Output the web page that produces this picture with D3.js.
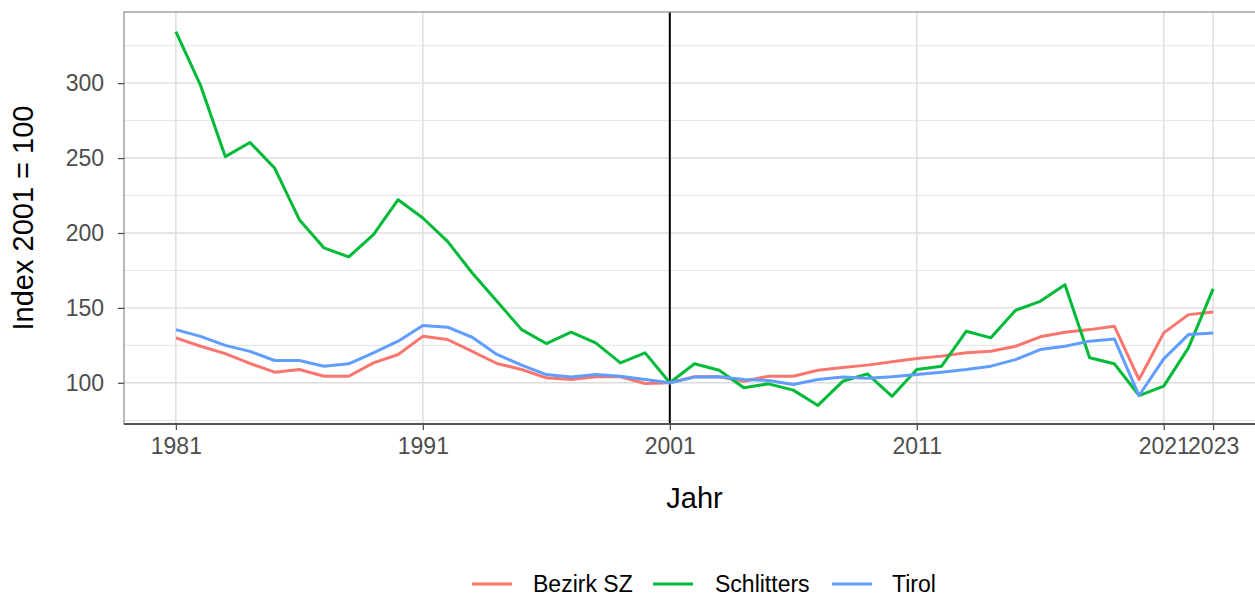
<!DOCTYPE html>
<html>
<head>
<meta charset="utf-8">
<script src="https://cdn.jsdelivr.net/npm/d3@7"></script>
<style>
  body { margin: 0; background: #fff; }
  svg text { font-family: "Liberation Sans", Arial, sans-serif; }
</style>
</head>
<body>
<svg id="chart" width="1255" height="597"></svg>
<script>
"use strict";

var years = d3.range(1981, 2024);
var seriesNames = ["Bezirk SZ", "Schlitters", "Tirol"];
var seriesColors = ["#F8766D", "#00BA38", "#619CFF"];

var bezirkSZ = [130, 124.4, 119.5, 112.9, 107.1, 108.9, 104.4, 104.4, 113.3, 118.9,
  131, 128.9, 121, 112.9, 108.9, 103.3, 102.2, 104, 104, 99.5,
  100, 104, 104, 101, 104.4, 104.4, 108.4, 110.2, 111.8, 114,
  116.2, 117.8, 120, 121, 124.4, 130.7, 133.8, 135.5, 137.8, 102.2,
  133.3, 145.5, 147.3];
var schlitters = [334.4, 298.5, 251, 260.4, 243.3, 208.9, 190, 184, 198.9, 222.2,
  210, 194.4, 173.3, 154.4, 135.5, 126.2, 133.8, 126.7, 113.3, 120,
  100, 112.7, 108.4, 96.7, 99.3, 95.1, 84.9, 101, 106, 91,
  108.9, 111, 134.4, 130, 148.4, 154.4, 165.5, 116.7, 112.7, 91.5,
  97.8, 123.3, 162.7];
var tirol = [135.5, 131, 125, 121, 114.9, 114.9, 111.1, 112.7, 120, 127.8,
  138.2, 137.1, 130.4, 118.9, 111.8, 105.5, 103.8, 105.5, 104.4, 102.2,
  100, 103.8, 104, 102.2, 101.5, 98.9, 102.2, 103.8, 103, 104,
  105.5, 107.1, 108.9, 111.1, 115.5, 122.2, 124.4, 127.8, 129.3, 91.5,
  116, 132.2, 133.3];

var xBreaks = [1981, 1991, 2001, 2011, 2021, 2023];
var yBreaks = [100, 150, 200, 250, 300];
var yMinor = [75, 125, 175, 225, 275, 325];
var refYear = 2001;

(function draw() {
  var svg = d3.select("#chart");
  var left = 124, right = 1265, top = 12, bottom = 424;

  var x = d3.scaleLinear().domain([1978.9, 2025.1]).range([left, right]);
  var y = d3.scaleLinear().domain([72.5, 347.5]).range([bottom, top]);

  var allSeries = [bezirkSZ, schlitters, tirol];

  // grid
  var grid = svg.append("g");
  grid.selectAll(".minor").data(yMinor).enter().append("line")
    .attr("x1", left).attr("x2", right)
    .attr("y1", function(d) { return y(d); }).attr("y2", function(d) { return y(d); })
    .attr("stroke", "#e4e4e4").attr("stroke-width", 1);
  grid.selectAll(".major").data(yBreaks).enter().append("line")
    .attr("x1", left).attr("x2", right)
    .attr("y1", function(d) { return y(d); }).attr("y2", function(d) { return y(d); })
    .attr("stroke", "#dcdcdc").attr("stroke-width", 1.4);
  grid.selectAll(".vmajor").data(xBreaks).enter().append("line")
    .attr("y1", top).attr("y2", bottom)
    .attr("x1", function(d) { return x(d); }).attr("x2", function(d) { return x(d); })
    .attr("stroke", "#dcdcdc").attr("stroke-width", 1.4);

  // reference line at 2001
  svg.append("line")
    .attr("x1", x(refYear)).attr("x2", x(refYear))
    .attr("y1", top).attr("y2", bottom)
    .attr("stroke", "#000").attr("stroke-width", 2);

  // series
  var line = d3.line()
    .x(function(d, i) { return x(years[i]); })
    .y(function(d) { return y(d); });
  allSeries.map(function(vals, index) {
    svg.append("path")
      .datum(vals)
      .attr("fill", "none")
      .attr("stroke", seriesColors[index])
      .attr("stroke-width", 3)
      .attr("stroke-linejoin", "round")
      .attr("d", line);
  });

  // panel border
  svg.append("rect")
    .attr("x", left).attr("y", top)
    .attr("width", right - left).attr("height", bottom - top)
    .attr("fill", "none").attr("stroke", "#8a8a8a").attr("stroke-width", 1.2);

  // axes
  var xAxis = svg.append("g")
    .attr("transform", "translate(0," + bottom + ")")
    .call(d3.axisBottom(x).tickValues(xBreaks).tickFormat(d3.format("d")).tickSize(6).tickPadding(8));
  xAxis.select(".domain").remove();
  xAxis.selectAll(".tick line").attr("stroke", "#444").attr("stroke-width", 1.2);
  xAxis.selectAll("text").attr("fill", "#4d4d4d").style("font-size", "23px");
  svg.append("line")
    .attr("x1", left).attr("x2", right)
    .attr("y1", bottom).attr("y2", bottom)
    .attr("stroke", "#555").attr("stroke-width", 2.2);

  var yAxis = svg.append("g")
    .attr("transform", "translate(" + left + ",0)")
    .call(d3.axisLeft(y).tickValues(yBreaks).tickSize(6).tickPadding(14));
  yAxis.select(".domain").remove();
  yAxis.selectAll(".tick line").attr("stroke", "#444").attr("stroke-width", 1.2);
  yAxis.selectAll("text").attr("fill", "#4d4d4d").style("font-size", "23px");

  // titles
  svg.append("text")
    .attr("x", (left + right) / 2).attr("y", 508)
    .attr("text-anchor", "middle")
    .style("font-size", "29px").attr("fill", "#000")
    .text("Jahr");
  svg.append("text")
    .attr("transform", "translate(33," + ((top + bottom) / 2) + ") rotate(-90)")
    .attr("text-anchor", "middle")
    .style("font-size", "29px").attr("fill", "#000")
    .text("Index 2001 = 100");

  // legend
  var keyX = [472, 653, 832];
  var labelX = [533, 715, 892];
  var legend = svg.append("g");
  seriesNames.map(function(name, i) {
    legend.append("line")
      .attr("x1", keyX[i]).attr("x2", keyX[i] + 40)
      .attr("y1", 584).attr("y2", 584)
      .attr("stroke", seriesColors[i]).attr("stroke-width", 3);
    legend.append("text")
      .attr("x", labelX[i]).attr("y", 592)
      .style("font-size", "23px").attr("fill", "#000")
      .text(name);
  });
})();
</script>
</body>
</html>
